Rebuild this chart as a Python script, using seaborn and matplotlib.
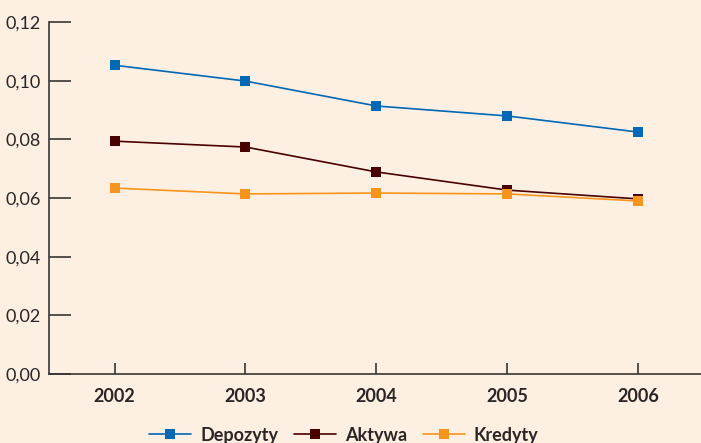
import numpy as np
import pandas as pd
import matplotlib.pyplot as plt
import matplotlib.ticker as mticker
import seaborn as sns

# dane z wykresu
lata = [2002, 2003, 2004, 2005, 2006]
depozyty = [0.1053, 0.0999, 0.0914, 0.0880, 0.0825]
aktywa = [0.0794, 0.0774, 0.0689, 0.0627, 0.0597]
kredyty = [0.0634, 0.0614, 0.0617, 0.0614, 0.0590]
serie = ['Depozyty', 'Aktywa', 'Kredyty']
kolory = {'Depozyty': '#0068b4', 'Aktywa': '#4a0000', 'Kredyty': '#f7941d'}

df = pd.DataFrame({
    'rok': lata * 3,
    'wartosc': depozyty + aktywa + kredyty,
    'seria': np.repeat(serie, len(lata)),
})

tlo = '#fdf0e2'
sns.set_style('white')
plt.rcParams['font.family'] = ['Lato', 'DejaVu Sans']

fig = plt.figure(figsize=(7.01, 4.43), dpi=100, facecolor=tlo)
ax = fig.add_axes([0.07, 0.156, 0.93, 0.794])
ax.set_facecolor(tlo)

sns.lineplot(data=df, x='rok', y='wartosc', hue='seria', style='seria',
             palette=kolory, markers={s: 's' for s in serie}, dashes=False,
             markersize=7.5, markeredgewidth=0, linewidth=1.2, ax=ax)

ax.set_xlim(2001.5, 2006.48)
ax.set_ylim(0, 0.12)
ax.set_xticks(lata)
ax.set_yticks(np.arange(0, 0.121, 0.02))
ax.yaxis.set_major_formatter(mticker.FuncFormatter(lambda v, p: f'{v:.2f}'.replace('.', ',')))
ax.set_xlabel('')
ax.set_ylabel('')

for s in ['top', 'right']:
    ax.spines[s].set_visible(False)
for s in ['left', 'bottom']:
    ax.spines[s].set_color('#3a3535')
    ax.spines[s].set_linewidth(1.2)

ax.tick_params(axis='y', left=True, direction='in', length=16, width=1.2, color='#3a3535',
               labelsize=13, labelcolor='#2b2526', pad=6)
ax.tick_params(axis='x', bottom=True, direction='in', length=8, width=1.2, color='#3a3535',
               labelsize=13, labelcolor='#2b2526', pad=10)
for t in ax.get_xticklabels():
    t.set_fontweight('bold')

h, l = ax.get_legend_handles_labels()
ax.get_legend().remove()
leg = fig.legend(h, l, loc='center', bbox_to_anchor=(344 / 701, 1 - 435 / 443),
                 ncol=3, frameon=False, fontsize=13, handlelength=2.3,
                 columnspacing=0.9, handletextpad=0.5, borderaxespad=0, borderpad=0)
for t in leg.get_texts():
    t.set_fontweight('bold')
    t.set_color('#2b2526')

fig.savefig('out.png', dpi=100, facecolor=tlo)
